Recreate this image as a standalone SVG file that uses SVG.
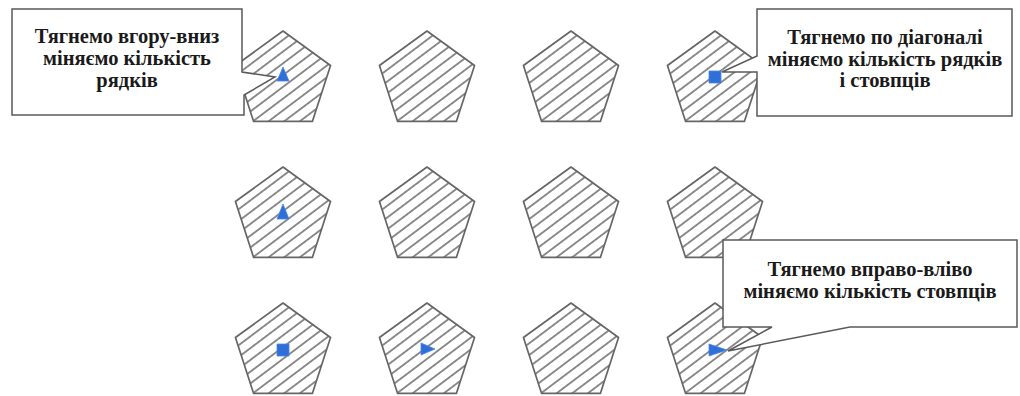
<svg xmlns="http://www.w3.org/2000/svg" xmlns:xlink="http://www.w3.org/1999/xlink" width="1020" height="396" viewBox="0 0 1020 396">
<style>
.pent{fill:url(#hatch);stroke:#666666;stroke-width:1.7;stroke-linejoin:round}
.call{fill:#ffffff;stroke:#5a5a5a;stroke-width:1.5;stroke-linejoin:miter}
.lbl{font-family:"Liberation Serif","Times New Roman",serif;font-size:20.5px;font-weight:bold;fill:#1a1a1a;text-anchor:middle}
.grip{fill:#2f6fd8;stroke:#4a86e8;stroke-width:0.8;stroke-linejoin:round}
</style>
<defs>
<pattern id="hatch" patternUnits="userSpaceOnUse" width="40" height="9.4" patternTransform="rotate(-37)">
<rect x="0" y="0" width="40" height="9.4" fill="#ffffff"/>
<line x1="-1" y1="4.7" x2="41" y2="4.7" stroke="#606060" stroke-width="1.2"/>
</pattern>
<polygon id="pent" class="pent" points="0,-50 47.55,-15.45 29.39,40.45 -29.39,40.45 -47.55,-15.45"/>
</defs>
<rect width="1020" height="396" fill="#ffffff"/>
<g id="pentagons">
<g id="p-r1c1" transform="translate(283,81)"><use href="#pent"/></g>
<g id="p-r1c2" transform="translate(427,81)"><use href="#pent"/></g>
<g id="p-r1c3" transform="translate(571,81)"><use href="#pent"/></g>
<g id="p-r1c4" transform="translate(715,81)"><use href="#pent"/></g>
<g id="p-r2c1" transform="translate(283,217)"><use href="#pent"/></g>
<g id="p-r2c2" transform="translate(427,217)"><use href="#pent"/></g>
<g id="p-r2c3" transform="translate(571,217)"><use href="#pent"/></g>
<g id="p-r2c4" transform="translate(715,217)"><use href="#pent"/></g>
<g id="p-r3c1" transform="translate(283,353)"><use href="#pent"/></g>
<g id="p-r3c2" transform="translate(427,353)"><use href="#pent"/></g>
<g id="p-r3c3" transform="translate(571,353)"><use href="#pent"/></g>
<g id="p-r3c4" transform="translate(715,353)"><use href="#pent"/></g>
</g>
<g id="callout-updown">
<path class="call" d="M12,9 H242 V72 L275,77 L244,95 V115 H12 Z"/>
<text class="lbl" x="127" y="43">Тягнемо вгору-вниз</text>
<text class="lbl" x="127" y="65">міняємо кількість</text>
<text class="lbl" x="127" y="87">рядків</text>
</g>
<g id="callout-diagonal">
<path class="call" d="M757,9 H1012 V116 H757 V72 H722 L757,56 Z"/>
<text class="lbl" x="885" y="44">Тягнемо по діагоналі</text>
<text class="lbl" x="885" y="66">міняємо кількість рядків</text>
<text class="lbl" x="885" y="87">і стовпців</text>
</g>
<g id="callout-leftright">
<path class="call" d="M723,240 H1017 V327 H850 L728,351 L772,327 H723 Z"/>
<text class="lbl" x="870" y="276">Тягнемо вправо-вліво</text>
<text class="lbl" x="870" y="298">міняємо кількість стовпців</text>
</g>
<g id="grips">
<path class="grip" d="M283,67 L289,81 L277,81 Z"/>
<path class="grip" d="M283,204 L289,219 L277,219 Z"/>
<rect class="grip" x="709" y="71" width="12" height="12"/>
<rect class="grip" x="277" y="344" width="12" height="12"/>
<path class="grip" d="M421,343 L435,349 L421,355 Z"/>
<path class="grip" d="M709,344 L727,350 L709,356 Z"/>
</g>
</svg>
